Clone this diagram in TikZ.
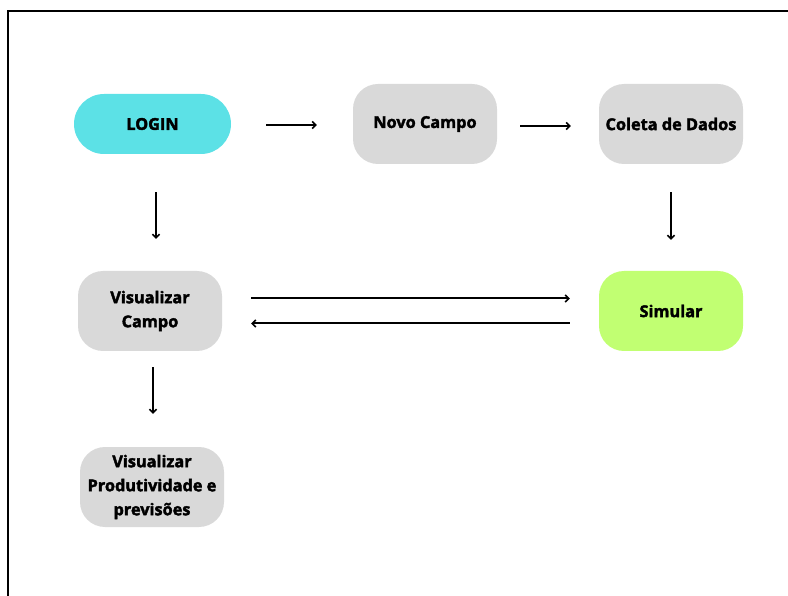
\documentclass[tikz,border=0pt]{standalone}
\usepackage{fontspec}
\setmainfont{Open Sans}[BoldFeatures={FakeBold=2.3}]
\usetikzlibrary{arrows.meta}
\definecolor{loginfill}{HTML}{5CE1E6}
\definecolor{stepfill}{HTML}{D9D9D9}
\definecolor{simfill}{HTML}{C1FF72}
\tikzset{
  box/.style={fill=stepfill, rounded corners=25pt, minimum width=144pt,
    minimum height=80pt, align=center, font=\bfseries\fontsize{16.3}{24}\selectfont,
    inner sep=0pt, text=black},
  flow/.style={draw=black, line width=2pt, -{Straight Barb[length=3.5pt,width=7pt,line width=1.6pt]}},
}
\begin{document}
\begin{tikzpicture}[x=1pt, y=-1pt]
  \useasboundingbox (0,0) rectangle (788,596);
  % frame lines along the top and left
  \draw[line width=2pt] (8,596) -- (8,11) -- (788,11);

  \node[box, fill=loginfill, rounded corners=30pt, minimum width=157pt, minimum height=60pt] (login) at (152.5,124) {LOGIN};
  \node[box] (novo) at (425,124) {Novo Campo};
  \node[box] (coleta) at (671,124) {Coleta de Dados};
  \node[box] (viscampo) at (150,311) {Visualizar\\Campo};
  \node[box, fill=simfill] (simular) at (671,311) {Simular};
  \node[box] (visprod) at (152,487) {Visualizar\\Produtividade e\\previsões};

  \draw[flow, shorten <=35pt, shorten >=36pt] ([yshift=-1pt]login.east) -- ([yshift=-1pt]login.east -| novo.west);
  \draw[flow, shorten <=23pt, shorten >=28pt] ([yshift=-2pt]novo.east) -- ([yshift=-2pt]novo.east -| coleta.west);
  \draw[flow, shorten <=38pt, shorten >=32pt] ([xshift=3.5pt]login.south) -- ([xshift=3.5pt]login.south |- viscampo.north);
  \draw[flow, shorten <=28pt, shorten >=31pt] (coleta.south) -- (simular.north);
  \draw[flow, shorten <=29pt, shorten >=29pt] ([yshift=12.5pt]viscampo.east) -- ([yshift=12.5pt]simular.west);
  \draw[flow, shorten <=29pt, shorten >=29pt] ([yshift=-12.5pt]simular.west) -- ([yshift=-12.5pt]viscampo.east);
  \draw[flow, shorten <=16pt, shorten >=33pt] ([xshift=3pt]viscampo.south) -- ([xshift=3pt]viscampo.south |- visprod.north);
\end{tikzpicture}
\end{document}
